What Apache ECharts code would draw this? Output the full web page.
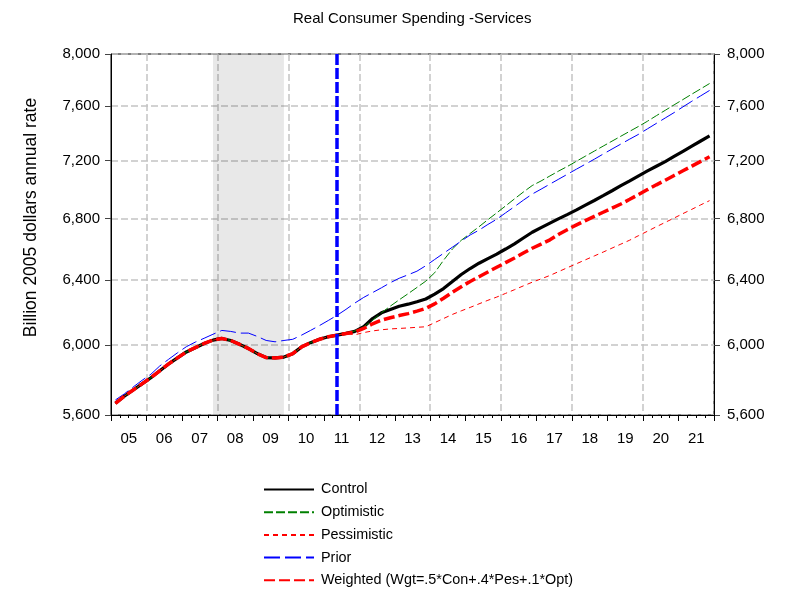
<!DOCTYPE html>
<html><head><meta charset="utf-8">
<script src="https://cdn.jsdelivr.net/npm/echarts@6/dist/echarts.min.js"></script>
<style>html,body{margin:0;padding:0;background:#fff}#c{width:787px;height:595px}</style>
</head><body><div id="c"></div>
<script>
// ---- Data ----
const yearLabels = ['05','06','07','08','09','10','11','12','13','14','15','16','17','18','19','20','21'];
const quarters = [];
yearLabels.forEach(y => { for (let q = 1; q <= 4; q++) quarters.push('20' + y + 'Q' + q); });

const yTicks = [5600, 6000, 6400, 6800, 7200, 7600, 8000];
const recession = ['2007Q4', '2009Q4'];
const forecastStart = '2011Q2';

// shared history 2005Q1 .. 2011Q3
const history = [5665,5705,5740,5775,5810,5850,5890,5925,5960,5985,6010,6030,6040,6028,6005,5980,5950,5927,5925,5930,5950,5990,6015,6035,6050,6060,6070];

// forecasts 2011Q4 .. 2021Q4
const controlFc = [6082,6110,6160,6195,6215,6235,6248,6263,6280,6310,6345,6390,6434,6472,6506,6536,6565,6598,6632,6670,6708,6739,6769,6799,6828,6858,6890,6922,6955,6989,7024,7058,7093,7127,7160,7193,7230,7267,7304,7341,7378];
const optimisticFc = [6085,6110,6150,6195,6236,6275,6313,6352,6392,6445,6525,6598,6655,6700,6745,6792,6838,6885,6933,6980,7025,7057,7092,7127,7160,7196,7232,7268,7304,7340,7376,7412,7448,7486,7527,7567,7608,7648,7689,7729,7770];
const pessimisticFc = [6062,6075,6085,6092,6097,6100,6103,6107,6110,6135,6160,6185,6207,6228,6250,6272,6292,6315,6338,6362,6385,6406,6428,6453,6478,6503,6528,6553,6578,6604,6630,6656,6686,6715,6745,6774,6803,6833,6862,6892,6921];
const weightedFc = [6078,6100,6128,6150,6165,6178,6190,6205,6222,6250,6285,6322,6357,6390,6420,6450,6480,6510,6540,6572,6603,6630,6658,6695,6727,6757,6786,6814,6842,6870,6898,6930,6963,6997,7030,7062,7095,7128,7161,7195,7228];
// prior forecast, full span 2005Q1 .. 2021Q4
const prior = [5684,5718,5757,5795,5830,5878,5917,5955,5991,6018,6041,6065,6088,6082,6072,6072,6052,6028,6020,6028,6035,6060,6088,6117,6148,6180,
  6216,6255,6290,6320,6350,6382,6410,6432,6455,6490,6530,6570,6610,6650,6690,6722,6760,6795,6838,6880,6924,6966,7000,7035,7070,7105,7140,7175,7210,7247,7283,7319,7355,7390,7430,7470,7510,7550,7593,7635,7676,7717];

const control = history.concat(controlFc);
const optimistic = history.concat(optimisticFc);
const pessimistic = history.concat(pessimisticFc);
const weighted = history.concat(weightedFc);

// ---- Chart ----
const FONT = "'Liberation Sans', Arial, sans-serif";
const gridLine = { show: true, lineStyle: { color: '#c4c4c4', width: 1.5, type: [7, 3] } };
const fmt = v => Math.round(v).toLocaleString('en-US');

function yAxis(pos) {
  return {
    type: 'log', min: 5600, max: 8000, position: pos,
    axisLine: { show: true, lineStyle: { color: '#000', width: 1 } },
    axisTick: { show: true, inside: false, length: 6, customValues: yTicks, lineStyle: { color: '#444' } },
    axisLabel: { customValues: yTicks, formatter: fmt, fontSize: 15, color: '#000', fontFamily: FONT, margin: pos === 'left' ? 11 : 13 },
    splitLine: pos === 'left' ? gridLine : { show: false },
    minorTick: { show: false }, minorSplitLine: { show: false }
  };
}

const chart = echarts.init(document.getElementById('c'), null, { renderer: 'canvas' });
const yl = yAxis('left');
yl.name = 'Billion 2005 dollars annual rate';
yl.nameLocation = 'middle';
yl.nameGap = 71;
yl.nameTextStyle = { fontSize: 17.5, color: '#000', fontFamily: FONT, padding: [0, 0, 0, 34] };

chart.setOption({
  animation: false,
  backgroundColor: '#fff',
  title: { text: 'Real Consumer Spending -Services', left: 288, top: 6,
    textStyle: { fontSize: 15, fontWeight: 'normal', color: '#000', fontFamily: FONT } },
  grid: { left: 111, right: 73, top: 54, bottom: 180, show: true, borderColor: '#000', borderWidth: 1, backgroundColor: 'transparent' },
  legend: {
    orient: 'vertical', left: 263, top: 482, padding: 0, itemWidth: 50, itemHeight: 14, itemGap: 7.7,
    itemStyle: { opacity: 0, color: 'transparent', borderWidth: 0 },
    textStyle: { fontSize: 14.4, lineHeight: 15, color: '#000', fontFamily: FONT, padding: [0, 0, 0, 2] },
    data: ['Control', 'Optimistic', 'Pessimistic', 'Prior', 'Weighted (Wgt=.5*Con+.4*Pes+.1*Opt)']
  },
  xAxis: [
    { type: 'category', data: quarters, boundaryGap: true, position: 'bottom',
      axisLine: { show: true, lineStyle: { color: '#000' } },
      axisTick: { show: true, interval: 0, length: 3, lineStyle: { color: '#000' } },
      axisLabel: { show: false }, splitLine: { show: false } },
    { type: 'category', data: yearLabels, boundaryGap: true, position: 'bottom',
      axisLine: { show: true, lineStyle: { color: '#000' } },
      axisTick: { show: true, interval: 0, length: 6, lineStyle: { color: '#000' } },
      axisLabel: { show: true, interval: 0, fontSize: 15, color: '#000', fontFamily: FONT, margin: 16 },
      splitLine: { show: true, interval: (i) => i % 2 === 1, lineStyle: gridLine.lineStyle } }
  ],
  yAxis: [yl, yAxis('right')],
  series: [
    { name: 'shade', type: 'line', data: [], z: 1, silent: true,
      markArea: { silent: true, itemStyle: { color: 'rgba(0,0,0,0.09)' },
        data: [[{ xAxis: recession[0] }, { xAxis: recession[1] }]] } },
    { name: 'Control', type: 'line', data: control, symbol: 'none', z: 3,
      lineStyle: { color: '#000', width: 3.2, type: 'solid' }, itemStyle: { color: '#000' } },
    { name: 'Optimistic', type: 'line', data: optimistic, symbol: 'none', z: 3,
      lineStyle: { color: '#008000', width: 1, type: [9, 3] }, itemStyle: { color: '#008000' } },
    { name: 'Pessimistic', type: 'line', data: pessimistic, symbol: 'none', z: 3,
      lineStyle: { color: '#ff0000', width: 1, type: [5, 4] }, itemStyle: { color: '#ff0000' } },
    { name: 'Prior', type: 'line', data: prior, symbol: 'none', z: 3,
      lineStyle: { color: '#0000ff', width: 1, type: [16, 5] }, itemStyle: { color: '#0000ff' } },
    { name: 'Weighted (Wgt=.5*Con+.4*Pes+.1*Opt)', type: 'line', data: weighted, symbol: 'none', z: 4,
      lineStyle: { color: '#ff0000', width: 3.5, type: [11, 4] }, itemStyle: { color: '#ff0000' } },
    { name: 'forecastLine', type: 'line', data: [], z: 5, silent: true,
      markLine: { silent: true, symbol: ['none', 'none'], label: { show: false },
        lineStyle: { color: '#0000ff', width: 3.5, type: [11, 3] },
        data: [{ xAxis: forecastStart }] } }
  ]
});
</script></body></html>
